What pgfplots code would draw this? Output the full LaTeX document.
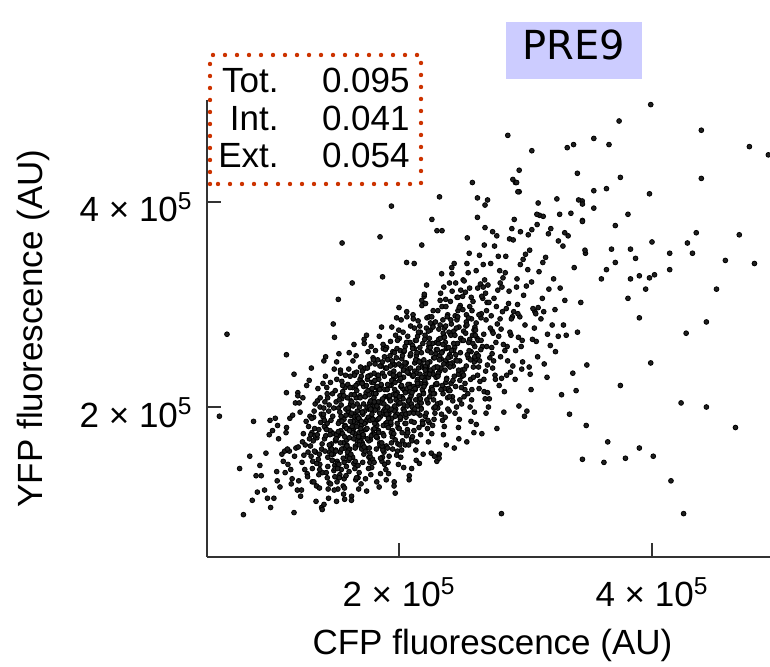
\documentclass[border=0pt]{standalone}
\usepackage{fontspec}
\setmainfont{Liberation Sans}
\newfontfamily\prefont{DejaVu Sans}
\usepackage{pgfplots}
\pgfplotsset{compat=1.18}
\definecolor{dotred}{RGB}{204,51,0}
\definecolor{lav}{RGB}{204,204,255}
\newcommand{\fs}{\fontsize{17.5pt}{21pt}\selectfont}
\begin{document}
\begin{tikzpicture}
\useasboundingbox (-103.5pt,-55pt) rectangle (281.5pt,278.5pt);
\begin{axis}[
  at={(0pt,0pt)}, anchor=south west,
  scale only axis, width=281.5pt, height=228.5pt,
  xmin=0.482, xmax=4.933, ymin=0.537, ymax=4.995,
  axis lines=left, axis line style={-, line width=0.9pt, black!80},
  tick align=inside, major tick length=7pt, tick style={line width=0.9pt, black!80},
  xtick={2,4}, ytick={2,4},
  xticklabels={2 × 10\textsuperscript{5}, 4 × 10\textsuperscript{5}},
  yticklabels={2 × 10\textsuperscript{5}, 4 × 10\textsuperscript{5}},
  xticklabel style={anchor=base, inner sep=0pt, yshift=-25pt, font=\fs},
  yticklabel style={anchor=base east, inner sep=0pt, xshift=-7pt, yshift=-10pt, font=\fs},
  xlabel={CFP fluorescence (AU)}, ylabel={YFP fluorescence (AU)},
  every axis x label/.style={at={(axis description cs:0.5,0)}, anchor=base, yshift=-49pt, xshift=2pt, font=\fs},
  every axis y label/.style={at={(axis description cs:0,0.5)}, anchor=base, xshift=-82pt, rotate=90, font=\fs},
]
\addplot[only marks, mark=*, mark size=1.2pt, mark options={draw=none, fill=black!88}] table {
x y
0.900 1.43
0.937 1.19
0.974 1.73
0.911 1.33
0.948 1.55
0.985 1.02
1.000 1.77
1.037 1.28
1.074 1.54
1.011 1.11
1.048 1.69
1.085 1.47
1.022 1.89
1.059 1.22
1.096 1.57
1.033 1.37
1.100 1.36
1.137 1.89
1.174 1.52
1.111 1.80
1.148 1.25
1.185 1.60
1.122 1.44
1.159 1.92
1.196 1.19
1.133 1.57
1.170 0.97
1.107 1.75
1.144 1.39
1.181 2.04
1.118 1.59
1.155 1.30
1.200 2.14
1.237 1.66
1.274 1.35
1.211 2.04
1.248 1.53
1.285 1.81
1.222 1.13
1.259 1.63
1.296 1.91
1.233 1.46
1.270 2.21
1.207 1.28
1.244 1.74
1.281 1.56
1.218 1.95
1.255 1.39
1.292 1.69
1.229 1.19
1.266 1.86
1.203 1.61
1.240 2.09
1.277 1.32
1.300 1.62
1.337 2.03
1.374 1.44
1.311 1.75
1.348 1.23
1.385 1.93
1.322 1.67
1.359 2.18
1.396 1.36
1.333 1.79
1.370 1.54
1.307 2.38
1.344 1.08
1.381 1.85
1.318 1.47
1.355 2.06
1.392 1.64
1.329 1.96
1.366 1.34
1.303 1.73
1.340 1.56
1.377 2.09
1.314 1.27
1.351 1.70
1.388 1.02
1.325 1.90
1.362 1.49
1.399 2.23
1.336 1.72
1.373 1.39
1.400 1.90
1.437 1.51
1.474 2.13
1.411 1.69
1.448 2.02
1.485 1.38
1.422 1.79
1.459 1.60
1.496 2.16
1.433 1.31
1.470 1.75
1.407 1.05
1.444 1.96
1.481 1.54
1.418 2.30
1.455 1.77
1.492 1.43
1.429 2.19
1.466 1.64
1.403 1.93
1.440 1.20
1.477 1.74
1.414 2.05
1.451 1.56
1.488 2.37
1.425 1.36
1.462 1.87
1.499 1.67
1.436 2.09
1.473 1.48
1.410 1.81
1.447 1.26
1.484 1.99
1.421 1.72
1.458 2.24
1.495 1.40
1.432 1.84
1.469 1.59
1.406 2.45
1.443 1.11
1.500 1.58
1.537 2.36
1.574 1.82
1.511 1.47
1.548 2.25
1.585 1.68
1.522 1.99
1.559 1.23
1.596 1.79
1.533 2.11
1.570 1.60
1.507 2.44
1.544 1.39
1.581 1.92
1.518 1.72
1.555 2.15
1.592 1.52
1.529 1.86
1.566 1.30
1.503 2.05
1.540 1.77
1.577 2.31
1.514 1.45
1.551 1.89
1.588 1.63
1.525 2.52
1.562 1.15
1.599 1.96
1.536 1.56
1.573 2.19
1.510 1.74
1.547 2.08
1.584 1.42
1.521 1.84
1.558 1.65
1.595 2.22
1.532 1.34
1.569 1.81
1.506 1.08
1.543 2.02
1.580 1.98
1.517 1.20
1.554 1.74
1.591 2.09
1.528 1.31
1.565 1.88
1.502 1.57
1.539 2.33
1.600 1.99
1.637 1.78
1.674 2.23
1.611 1.59
1.648 1.93
1.685 1.36
1.622 2.12
1.659 1.84
1.696 2.39
1.633 1.51
1.670 1.96
1.607 1.70
1.644 2.61
1.681 1.20
1.618 2.03
1.655 1.62
1.692 2.27
1.629 1.81
1.666 2.16
1.603 1.48
1.640 1.91
1.677 1.72
1.614 2.30
1.651 1.40
1.688 1.88
1.625 1.13
1.662 2.09
1.699 1.65
1.636 2.45
1.673 1.89
1.610 1.54
1.647 2.33
1.684 1.75
1.621 2.06
1.658 1.29
1.695 1.86
1.632 2.19
1.669 1.67
1.606 2.53
1.643 1.45
1.680 1.71
1.617 1.92
1.654 1.47
1.691 2.11
1.628 1.77
1.665 2.34
1.602 1.58
1.639 1.86
1.676 1.31
1.613 2.19
1.650 1.74
1.687 2.00
1.624 1.09
1.661 2.50
1.698 1.67
1.700 1.25
1.737 2.11
1.774 1.68
1.711 2.35
1.748 1.88
1.785 2.24
1.722 1.54
1.759 1.98
1.796 1.78
1.733 2.38
1.770 1.46
1.707 1.95
1.744 1.18
1.781 2.17
1.718 1.71
1.755 2.54
1.792 1.97
1.729 1.60
1.766 2.42
1.703 1.82
1.740 2.14
1.777 1.34
1.714 1.93
1.751 2.27
1.788 1.73
1.725 2.62
1.762 1.51
1.799 2.07
1.736 1.85
1.773 2.31
1.710 1.65
1.747 2.00
1.784 1.41
1.721 2.20
1.758 1.90
1.795 2.48
1.732 1.57
1.769 2.04
1.706 1.76
1.743 2.70
1.780 2.59
1.717 1.73
1.754 2.16
1.791 1.49
1.728 1.96
1.765 1.60
1.702 2.30
1.739 1.86
1.776 2.06
1.713 1.46
1.750 2.38
1.787 1.89
1.724 2.66
1.761 1.67
1.798 2.13
1.735 1.30
1.772 1.87
1.709 2.24
1.800 2.24
1.837 1.77
1.874 2.61
1.811 2.03
1.848 1.65
1.885 2.49
1.822 1.87
1.859 2.21
1.896 1.39
1.833 1.99
1.870 2.33
1.807 1.79
1.844 2.69
1.881 1.56
1.818 2.13
1.855 1.91
1.892 2.38
1.829 1.70
1.866 2.07
1.803 1.46
1.840 2.27
1.877 1.96
1.814 2.55
1.851 1.62
1.888 2.10
1.825 1.82
1.862 2.78
1.899 1.29
1.836 2.17
1.873 1.74
1.810 2.42
1.847 1.94
1.884 2.30
1.821 1.59
1.858 2.04
1.895 1.84
1.832 2.46
1.869 1.51
1.806 2.01
1.843 1.22
1.880 1.72
1.817 2.19
1.854 1.35
1.891 1.93
1.828 2.31
1.865 1.47
1.802 2.09
1.839 1.75
1.876 2.57
1.813 1.97
1.850 1.63
1.887 2.17
1.824 1.27
1.861 2.40
1.898 1.83
1.835 2.05
1.872 1.58
1.809 2.26
1.900 1.62
1.937 2.21
1.974 1.98
1.911 2.46
1.948 1.77
1.985 2.14
1.922 1.52
1.959 2.35
1.996 2.03
1.933 2.64
1.970 1.68
1.907 2.17
1.944 1.89
1.981 2.87
1.918 1.35
1.955 2.25
1.992 1.80
1.929 2.50
1.966 2.01
1.903 2.38
1.940 1.65
1.977 2.11
1.914 1.91
1.951 2.54
1.988 1.57
1.925 2.08
1.962 1.27
1.999 2.31
1.936 1.83
1.973 2.70
1.910 2.10
1.947 1.71
1.984 2.57
1.921 1.94
1.958 2.28
1.995 1.44
1.932 2.06
1.969 2.41
1.906 1.85
1.943 2.78
1.980 2.48
1.917 1.89
1.954 2.12
1.991 1.64
1.928 2.33
1.965 1.96
1.902 2.58
1.939 1.75
1.976 2.07
1.913 1.46
1.950 2.42
1.987 1.93
1.924 2.21
1.961 1.23
1.998 2.75
1.935 1.85
1.972 2.30
1.909 1.60
2.000 2.97
2.037 1.41
2.074 2.33
2.011 1.88
2.048 2.59
2.085 2.08
2.022 2.47
2.059 1.72
2.096 2.20
2.033 1.98
2.070 2.63
2.007 1.63
2.044 2.16
2.081 1.33
2.018 2.40
2.055 1.90
2.092 2.79
2.029 2.18
2.066 1.78
2.003 2.67
2.040 2.02
2.077 2.37
2.014 1.51
2.051 2.14
2.088 2.50
2.025 1.93
2.062 2.88
2.099 1.69
2.036 2.29
2.073 2.06
2.010 2.55
2.047 1.84
2.084 2.22
2.021 1.58
2.058 2.43
2.095 2.11
2.032 2.73
2.069 1.75
2.006 2.26
2.043 1.96
2.080 1.29
2.017 2.85
2.054 1.93
2.091 2.38
2.028 1.67
2.065 2.18
2.002 1.79
2.039 2.54
2.076 2.06
2.013 2.28
2.050 1.63
2.087 2.63
2.024 2.10
2.061 2.93
2.098 1.86
2.035 2.36
2.100 1.40
2.137 2.50
2.174 1.99
2.111 2.90
2.148 2.27
2.185 1.86
2.122 2.77
2.159 2.11
2.196 2.46
2.133 1.58
2.170 2.23
2.107 2.60
2.144 2.01
2.181 2.99
2.118 1.77
2.155 2.38
2.192 2.14
2.129 2.65
2.166 1.92
2.103 2.31
2.140 1.66
2.177 2.53
2.114 2.20
2.151 2.84
2.188 1.83
2.125 2.35
2.162 2.05
2.199 3.08
2.136 1.48
2.173 2.43
2.110 1.96
2.147 2.69
2.184 2.17
2.121 2.57
2.158 1.80
2.195 2.29
2.132 2.07
2.169 2.73
2.106 1.71
2.143 2.25
2.180 3.04
2.117 1.94
2.154 2.45
2.191 1.54
2.128 2.17
2.165 2.58
2.102 1.67
2.139 2.33
2.176 1.98
2.113 2.86
2.150 2.21
2.187 1.84
2.124 2.43
2.161 1.45
2.200 3.10
2.237 1.85
2.274 2.48
2.211 2.23
2.248 2.75
2.285 2.00
2.222 2.40
2.259 1.74
2.296 2.63
2.233 2.29
2.270 2.94
2.207 1.91
2.244 2.44
2.281 2.13
2.218 3.19
2.255 1.55
2.292 2.52
2.229 2.04
2.266 2.80
2.203 2.26
2.240 2.67
2.277 1.88
2.214 2.38
2.251 2.16
2.288 2.83
2.225 1.79
2.262 2.34
2.299 1.47
2.236 2.59
2.273 2.07
2.210 3.01
2.247 2.36
2.284 1.94
2.221 2.87
2.258 2.19
2.295 2.56
2.232 1.66
2.269 2.32
2.206 2.70
2.243 2.10
2.280 1.52
2.217 2.77
2.254 2.14
2.291 2.39
2.228 1.87
2.265 2.62
2.202 2.22
2.239 2.88
2.276 1.99
2.213 2.33
2.300 2.22
2.337 3.30
2.374 1.63
2.311 2.62
2.348 2.13
2.385 2.90
2.322 2.35
2.359 2.77
2.396 1.96
2.333 2.47
2.370 2.24
2.307 2.94
2.344 1.87
2.381 2.43
2.318 1.54
2.355 2.69
2.392 2.16
2.329 3.11
2.366 2.45
2.303 2.03
2.340 2.98
2.377 2.28
2.314 2.66
2.351 1.73
2.388 2.41
2.325 2.80
2.362 2.18
2.399 3.21
2.336 1.93
2.373 2.57
2.310 2.32
2.347 2.85
2.384 2.09
2.321 2.50
2.358 1.81
2.395 2.73
2.332 2.38
2.369 3.05
2.306 1.99
2.343 2.54
2.380 2.58
2.317 1.50
2.354 3.17
2.391 2.18
2.328 2.67
2.365 1.90
2.400 2.51
2.437 1.60
2.474 2.78
2.411 2.23
2.448 3.21
2.485 2.53
2.422 2.10
2.459 3.07
2.496 2.36
2.433 2.74
2.470 1.80
2.407 2.49
2.444 2.89
2.481 2.26
2.418 3.30
2.455 2.00
2.492 2.66
2.429 2.40
2.466 2.94
2.403 2.16
2.440 2.58
2.477 1.88
2.414 2.81
2.451 2.46
2.488 3.14
2.425 2.06
2.462 2.62
2.499 2.30
2.436 3.40
2.473 1.69
2.410 2.70
2.447 2.20
2.484 2.99
2.421 2.43
2.458 2.85
2.495 2.03
2.432 2.55
2.469 2.32
2.406 3.03
2.443 1.94
2.480 2.45
2.417 3.36
2.500 2.33
2.537 3.40
2.574 2.07
2.511 2.74
2.548 2.48
2.585 3.03
2.522 2.23
2.559 2.66
2.596 1.95
2.533 2.90
2.570 2.54
2.507 3.24
2.544 2.13
2.581 2.70
2.518 2.37
2.555 3.50
2.592 1.75
2.529 2.79
2.566 2.27
2.503 3.08
2.540 2.51
2.577 2.94
2.514 2.10
2.551 2.63
2.588 2.39
2.525 3.12
2.562 2.00
2.599 2.59
2.536 1.66
2.573 2.86
2.510 2.31
2.547 3.31
2.584 2.62
2.521 2.17
2.558 3.16
2.595 2.44
2.532 2.83
2.569 1.86
2.600 2.78
2.637 2.45
2.674 3.58
2.611 1.83
2.648 2.87
2.685 2.35
2.622 3.16
2.659 2.59
2.696 3.02
2.633 2.18
2.670 2.71
2.607 2.47
2.644 3.20
2.681 2.08
2.618 2.67
2.655 1.74
2.692 2.94
2.629 2.39
2.666 3.39
2.603 2.70
2.640 2.25
2.677 3.24
2.614 2.52
2.651 2.91
2.688 1.94
2.625 2.65
2.662 3.06
2.699 2.41
2.636 3.48
2.673 2.15
2.610 2.82
2.647 2.56
2.684 3.11
2.621 2.31
2.700 2.14
2.737 2.74
2.774 1.79
2.711 3.02
2.748 2.45
2.785 3.47
2.722 2.77
2.759 2.31
2.796 3.33
2.733 2.58
2.770 2.98
2.707 2.00
2.744 2.72
2.781 3.14
2.718 2.48
2.755 3.57
2.792 2.21
2.729 2.89
2.766 2.63
2.703 3.19
2.740 2.38
2.777 2.81
2.714 2.08
2.751 3.06
2.788 2.69
2.725 3.40
2.762 2.27
2.799 2.86
2.736 2.52
2.773 3.67
2.800 3.21
2.837 2.55
2.874 3.64
2.811 2.28
2.848 2.96
2.885 2.70
2.822 3.26
2.859 2.45
2.896 2.88
2.833 2.15
2.870 3.13
2.807 2.76
2.844 3.47
2.881 2.34
2.818 2.93
2.855 2.59
2.892 3.74
2.829 1.95
2.866 3.01
2.803 2.49
2.840 3.31
2.877 2.73
2.814 3.17
2.851 2.31
2.888 2.86
2.825 2.61
2.900 2.40
2.937 3.00
2.974 2.65
2.911 3.83
2.948 2.01
2.985 3.09
2.922 2.55
2.959 3.39
2.996 2.80
2.933 3.25
2.970 2.37
2.907 2.93
2.944 2.68
2.981 3.44
2.918 2.27
2.955 2.88
2.992 1.91
2.929 3.17
2.966 2.59
2.903 3.63
2.940 2.91
2.977 2.44
3.000 3.49
3.037 2.32
3.074 2.93
3.011 1.96
3.048 3.22
3.085 2.64
3.022 3.68
3.059 2.96
3.096 2.49
3.033 3.53
3.070 2.77
3.007 3.18
3.044 2.17
3.081 2.91
3.018 3.34
3.055 2.66
3.092 3.78
3.029 2.39
3.100 2.97
3.137 3.41
3.174 2.71
3.111 3.87
3.148 2.42
3.185 3.15
3.122 2.86
3.159 3.46
3.196 2.60
3.133 3.06
3.170 2.29
3.107 3.32
3.144 2.93
3.181 3.69
3.200 3.74
3.237 2.54
3.274 3.16
3.211 2.80
3.248 4.03
3.285 2.12
3.222 3.25
3.259 2.69
3.296 3.57
3.233 2.95
3.300 2.80
3.337 3.67
3.374 2.33
3.311 3.04
3.348 1.93
3.385 3.36
3.322 2.70
3.359 3.89
3.400 2.16
3.437 3.02
3.474 3.50
3.411 2.73
3.448 4.01
3.485 2.41
3.99 4.95
3.74 4.79
2.86 4.65
3.05 4.50
4.39 4.70
4.77 4.54
3.33 4.53
3.38 4.56
3.54 4.62
3.66 4.56
2.95 4.31
2.90 4.22
2.92 4.19
2.95 4.10
3.41 4.28
3.75 4.24
4.39 4.23
3.54 4.11
3.64 4.13
3.98 4.08
3.10 3.99
3.42 4.02
3.45 3.98
3.54 3.94
3.09 3.88
3.14 3.86
3.27 3.88
3.45 3.82
3.81 3.88
3.71 3.77
4.92 4.46
4.35 3.70
4.69 3.68
3.68 3.54
3.83 3.54
4.00 3.61
4.28 3.60
4.14 3.50
4.32 3.50
3.87 3.45
3.71 3.41
4.58 3.43
4.81 3.40
4.14 3.34
3.64 3.34
3.60 3.25
3.83 3.25
3.90 3.28
3.98 3.26
4.02 3.29
3.95 3.15
4.51 3.15
3.81 3.06
3.90 2.87
4.43 2.83
4.27 2.72
3.99 2.43
3.75 2.21
4.23 2.04
4.43 2.00
4.66 1.80
3.48 1.82
3.65 1.66
3.90 1.60
3.45 1.49
3.62 1.46
3.79 1.50
4.01 1.52
4.15 1.28
4.25 0.96
2.81 0.96
0.77 0.95
0.74 1.40
0.84 1.09
0.88 1.17
0.96 1.11
1.57 1.10
1.97 1.16
0.64 2.71
0.58 1.91
1.11 2.51
1.17 2.32
1.11 2.14
1.20 2.11
0.85 1.86
0.98 1.87
1.04 1.82
1.55 3.60
1.85 3.66
1.63 3.21
1.52 3.05
1.87 3.27
1.48 2.81
1.49 2.68
1.42 2.49
1.29 2.26
2.32 4.05
1.94 3.96
2.26 3.83
2.18 3.58
2.06 3.41
2.12 3.40
2.30 3.72
2.34 3.72
2.58 4.19
2.62 4.04
2.70 4.02
2.68 3.97
2.93 4.19
2.94 4.10
2.62 3.85
2.68 3.75
2.74 3.71
2.96 3.71
3.05 3.73
2.54 3.65
3.26 3.62
3.31 3.70
3.47 3.53
3.45 3.81
0.82 1.52
0.87 1.33
};
\addplot[only marks, mark=*, mark size=1.2pt, mark options={draw=none, fill=black!88}] table {
x y
1.305 1.52
1.366 1.78
1.327 1.27
1.388 1.59
1.349 1.45
1.310 1.89
1.371 1.21
1.332 1.57
1.393 1.00
1.354 1.73
1.315 1.40
1.376 2.00
1.405 1.99
1.466 1.54
1.427 1.78
1.488 1.19
1.449 1.63
1.410 1.87
1.471 1.48
1.432 2.13
1.493 1.32
1.454 1.73
1.415 1.57
1.476 1.91
1.437 1.42
1.498 1.68
1.459 1.25
1.505 1.73
1.566 1.46
1.527 2.07
1.588 1.62
1.549 1.86
1.510 1.27
1.571 1.71
1.532 1.95
1.593 1.56
1.554 2.21
1.515 1.40
1.576 1.81
1.537 1.65
1.598 1.99
1.559 1.50
1.520 1.76
1.581 1.33
1.542 1.91
1.503 1.69
1.564 2.11
1.525 1.44
1.586 1.79
1.547 1.59
1.508 2.27
1.569 1.21
1.605 1.37
1.666 1.81
1.627 2.05
1.688 1.66
1.649 2.31
1.610 1.50
1.671 1.91
1.632 1.75
1.693 2.09
1.654 1.60
1.615 1.86
1.676 1.43
1.637 2.01
1.698 1.79
1.659 2.21
1.620 1.54
1.681 1.89
1.642 1.69
1.603 2.37
1.664 1.31
1.625 1.94
1.686 1.63
1.647 2.12
1.608 1.77
1.669 2.03
1.705 1.59
1.766 2.00
1.727 1.84
1.788 2.18
1.749 1.69
1.710 1.95
1.771 1.52
1.732 2.10
1.793 1.88
1.754 2.30
1.715 1.63
1.776 1.98
1.737 1.78
1.798 2.46
1.759 1.40
1.720 2.03
1.781 1.72
1.742 2.21
1.703 1.86
1.764 2.12
1.725 1.61
1.786 1.93
1.747 1.79
1.708 2.23
1.769 1.55
1.805 2.05
1.866 1.62
1.827 2.20
1.888 1.98
1.849 2.40
1.810 1.73
1.871 2.08
1.832 1.88
1.893 2.56
1.854 1.50
1.815 2.13
1.876 1.82
1.837 2.31
1.898 1.96
1.859 2.22
1.820 1.71
1.881 2.03
1.842 1.89
1.803 2.33
1.864 1.65
1.825 2.01
1.886 1.44
1.847 2.17
1.808 1.84
1.869 2.44
1.905 1.82
1.966 2.17
1.927 1.97
1.988 2.65
1.949 1.59
1.910 2.22
1.971 1.91
1.932 2.40
1.993 2.05
1.954 2.31
1.915 1.80
1.976 2.12
1.937 1.98
1.998 2.42
1.959 1.74
1.920 2.10
1.981 1.53
1.942 2.26
1.903 1.93
1.964 2.53
1.925 2.11
1.986 1.84
1.947 2.45
1.908 2.00
1.969 2.24
2.005 2.32
2.066 2.01
2.027 2.50
2.088 2.15
2.049 2.41
2.010 1.90
2.071 2.22
2.032 2.08
2.093 2.52
2.054 1.84
2.015 2.20
2.076 1.63
2.037 2.36
2.098 2.03
2.059 2.63
2.020 2.21
2.081 1.94
2.042 2.55
2.003 2.10
2.064 2.34
2.025 1.75
2.086 2.19
2.047 2.43
2.008 2.04
2.069 2.69
2.105 2.00
2.166 2.32
2.127 2.18
2.188 2.62
2.149 1.94
2.110 2.30
2.171 1.73
2.132 2.46
2.193 2.13
2.154 2.73
2.115 2.31
2.176 2.04
2.137 2.65
2.198 2.20
2.159 2.44
2.120 1.85
2.181 2.29
2.142 2.53
2.103 2.14
2.164 2.79
2.125 1.98
2.186 2.39
2.147 2.23
2.108 2.57
2.169 2.08
2.205 2.39
2.266 1.82
2.227 2.55
2.288 2.22
2.249 2.82
2.210 2.40
2.271 2.13
2.232 2.74
2.293 2.29
2.254 2.53
2.215 1.94
2.276 2.38
2.237 2.62
2.298 2.23
2.259 2.88
2.220 2.07
2.281 2.48
2.242 2.32
2.203 2.66
2.264 2.17
2.225 2.43
2.286 2.00
2.247 2.58
2.208 2.36
2.269 2.78
2.305 2.39
2.366 2.63
2.327 2.04
2.388 2.48
2.349 2.72
2.310 2.33
2.371 2.98
2.332 2.17
2.393 2.58
2.354 2.42
2.315 2.76
2.376 2.27
2.337 2.53
2.398 2.10
2.359 2.68
2.320 2.46
2.381 2.88
2.342 2.21
2.303 2.56
2.364 2.36
2.325 3.04
2.386 1.98
2.347 2.61
2.308 2.30
2.369 2.79
2.405 2.42
2.466 3.07
2.427 2.26
2.488 2.67
2.449 2.51
2.410 2.85
2.471 2.36
2.432 2.62
2.493 2.19
2.454 2.77
2.415 2.55
2.476 2.97
2.437 2.30
2.498 2.65
2.459 2.45
2.420 3.13
2.481 2.07
2.442 2.70
2.403 2.39
2.464 2.88
2.505 2.95
2.566 2.46
2.527 2.72
2.588 2.29
2.549 2.87
2.510 2.65
2.571 3.07
2.532 2.40
2.593 2.75
2.554 2.55
2.515 3.23
2.576 2.17
2.537 2.80
2.598 2.49
2.559 2.98
2.605 2.75
2.666 3.17
2.627 2.50
2.688 2.85
2.649 2.65
2.610 3.33
2.671 2.27
2.632 2.90
2.693 2.59
2.654 3.08
};
\end{axis}
\draw[dotred, line width=2.2pt, line cap=round, dash pattern=on 0pt off 6pt] (1.5pt,186.5pt) rectangle (107pt,251pt);
\node[anchor=base east, inner sep=0pt, font=\fs] at (36pt,232pt) {Tot.};
\node[anchor=base east, inner sep=0pt, font=\fs] at (36pt,213pt) {Int.};
\node[anchor=base east, inner sep=0pt, font=\fs] at (36pt,194.5pt) {Ext.};
\node[anchor=base east, inner sep=0pt, font=\fs] at (101.5pt,232pt) {0.095};
\node[anchor=base east, inner sep=0pt, font=\fs] at (101.5pt,213pt) {0.041};
\node[anchor=base east, inner sep=0pt, font=\fs] at (101.5pt,194.5pt) {0.054};
\fill[lav] (149.5pt,239pt) rectangle (217.5pt,267.5pt);
\node[anchor=base, inner sep=0pt, font=\prefont\fontsize{20pt}{24pt}\selectfont] at (183.5pt,248.5pt) {PRE9};
\end{tikzpicture}
\end{document}
